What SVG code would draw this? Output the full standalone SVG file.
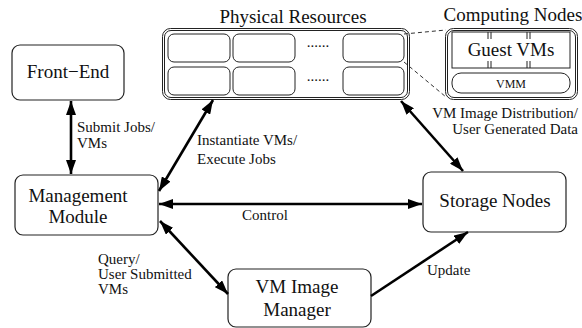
<svg xmlns="http://www.w3.org/2000/svg" width="582" height="328" viewBox="0 0 582 328">
<defs>
<style>
text{font-family:'Liberation Serif','Times New Roman',serif;fill:#111}
.main{font-size:19px}
.lbl{font-size:15px}
.box{fill:#fff;stroke:#222;stroke-width:1.2}
.thin{fill:none;stroke:#222;stroke-width:1}
.dash{fill:none;stroke:#333;stroke-width:1;stroke-dasharray:4,3}
.conn{fill:none;stroke:#000;stroke-width:2.6}
</style>
<marker id="ah" markerUnits="userSpaceOnUse" markerWidth="14" markerHeight="10" refX="14" refY="5" orient="auto-start-reverse">
<path d="M0,0 L14,5 L0,10 z" fill="#000"/>
</marker>
</defs>

<g id="physical-resources">
<text class="main" x="293" y="23" text-anchor="middle">Physical Resources</text>
<rect class="thin" x="162.5" y="28.5" width="247" height="71" rx="8"/>
<rect class="thin" x="164.5" y="30.5" width="243" height="67" rx="6.5"/>
<rect class="thin" x="168" y="34" width="62" height="28" rx="6"/>
<rect class="thin" x="233" y="34" width="62" height="28" rx="6"/>
<rect class="thin" x="343" y="34" width="61" height="28" rx="6"/>
<rect class="thin" x="168" y="67" width="62" height="28" rx="6"/>
<rect class="thin" x="233" y="67" width="62" height="28" rx="6"/>
<rect class="thin" x="343" y="67" width="61" height="28" rx="6"/>
<text class="lbl" x="318" y="47" text-anchor="middle">......</text>
<text class="lbl" x="318" y="81" text-anchor="middle">......</text>
</g>

<g id="computing-nodes">
<text class="main" x="513" y="21" text-anchor="middle">Computing Nodes</text>
<rect class="thin" x="445.5" y="28.5" width="132" height="71" rx="8"/>
<rect class="thin" x="447.5" y="30.5" width="128" height="67" rx="6.5"/>
<rect class="thin" x="452" y="32" width="118" height="36"/>
<path class="thin" d="M488,32 V39 M491,32 V39 M527,32 V39 M530,32 V39 M488,61 V68 M491,61 V68 M527,61 V68 M530,61 V68"/>
<text class="main" x="511" y="56" text-anchor="middle">Guest VMs</text>
<rect class="thin" x="452" y="73" width="118" height="20" rx="9"/>
<text x="511" y="88" text-anchor="middle" font-size="12">VMM</text>
</g>

<g id="zoom-lines">
<path class="dash" d="M404,34 L446,30"/>
<path class="dash" d="M404,62 L446,97"/>
</g>

<g id="front-end">
<rect class="box" x="12" y="45" width="112" height="55" rx="8"/>
<text class="main" x="68" y="78" text-anchor="middle">Front−End</text>
</g>

<g id="management-module">
<rect class="box" x="15" y="175" width="143" height="60" rx="8"/>
<text class="main" x="78" y="202" text-anchor="middle">Management</text>
<text class="main" x="78" y="223" text-anchor="middle">Module</text>
</g>

<g id="storage-nodes">
<rect class="box" x="423" y="172" width="143" height="60" rx="8"/>
<text class="main" x="495" y="207" text-anchor="middle">Storage Nodes</text>
</g>

<g id="vm-image-manager">
<rect class="box" x="228" y="269" width="143" height="58" rx="8"/>
<text class="main" x="297" y="293" text-anchor="middle">VM Image</text>
<text class="main" x="297" y="316" text-anchor="middle">Manager</text>
</g>

<g id="connectors">
<line class="conn" x1="71" y1="101" x2="71" y2="174" marker-start="url(#ah)" marker-end="url(#ah)"/>
<line class="conn" x1="213" y1="100" x2="159" y2="191" marker-start="url(#ah)" marker-end="url(#ah)"/>
<line class="conn" x1="159" y1="204" x2="422" y2="204" marker-start="url(#ah)" marker-end="url(#ah)"/>
<line class="conn" x1="401" y1="101" x2="463" y2="171" marker-start="url(#ah)" marker-end="url(#ah)"/>
<line class="conn" x1="160" y1="221" x2="228" y2="294" marker-start="url(#ah)" marker-end="url(#ah)"/>
<line class="conn" x1="371" y1="296" x2="468" y2="232" marker-end="url(#ah)"/>
</g>

<g id="labels">
<text class="lbl" x="77" y="132">Submit Jobs/</text>
<text class="lbl" x="77" y="148">VMs</text>
<text class="lbl" x="197" y="145">Instantiate VMs/</text>
<text class="lbl" x="197" y="164">Execute Jobs</text>
<text class="lbl" x="265" y="220" text-anchor="middle">Control</text>
<text class="lbl" x="578" y="118" text-anchor="end">VM Image Distribution/</text>
<text class="lbl" x="578" y="134" text-anchor="end">User Generated Data</text>
<text class="lbl" x="98" y="264">Query/</text>
<text class="lbl" x="98" y="279">User Submitted</text>
<text class="lbl" x="98" y="294">VMs</text>
<text class="lbl" x="427" y="275">Update</text>
</g>
</svg>
